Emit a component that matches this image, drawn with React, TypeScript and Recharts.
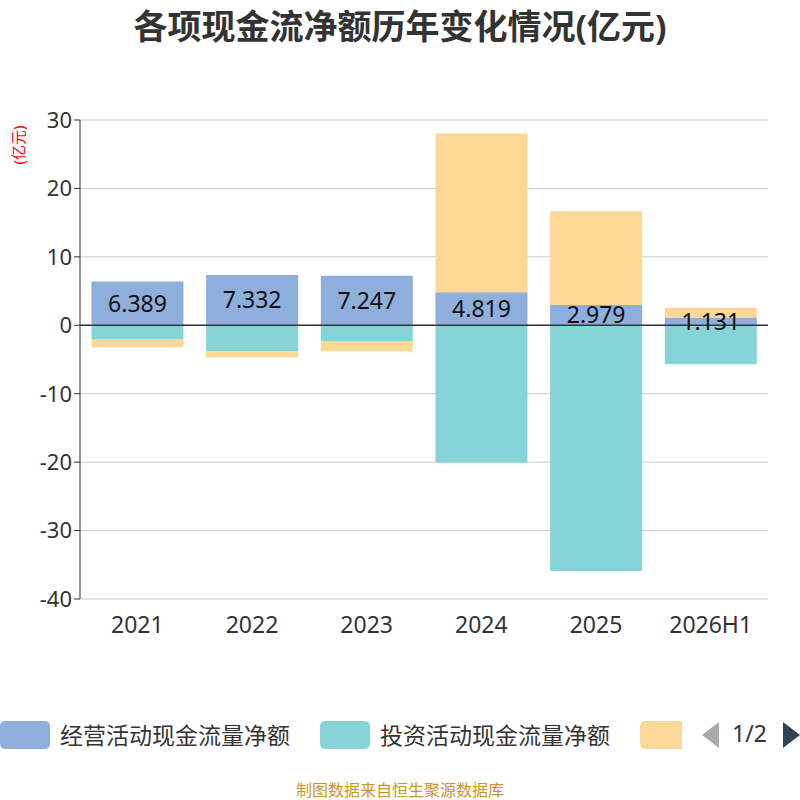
import React from "react";
import { BarChart, Bar, XAxis, YAxis, CartesianGrid, ReferenceLine, LabelList } from "recharts";

const categories = ["2021", "2022", "2023", "2024", "2025", "2026H1"];
const operating = [6.389, 7.332, 7.247, 4.819, 2.979, 1.131];
const investing = [-2.0, -3.8, -2.3, -20.1, -35.9, -5.7];
const financing = [-1.2, -0.9, -1.5, 23.2, 13.7, 1.4];
const yTicks = [-40, -30, -20, -10, 0, 10, 20, 30];

const data = categories.map((c, i) => ({ name: c, op: operating[i], inv: investing[i], fin: financing[i] }));

const C_OP = "#8eaedb";
const C_INV = "#86d4d8";
const C_FIN = "#fdd796";
const font = "'Noto Sans', 'Noto Sans CJK SC', sans-serif";

export default function App() {
  return (
    <div style={{ position: "absolute", left: 0, top: 0, width: 800, height: 800, background: "#fff", fontFamily: font, overflow: "hidden" }}>
      <div style={{ position: "absolute", top: 0, width: 800, textAlign: "center", fontSize: 34, fontWeight: "bold", color: "#333" }}>
        各项现金流净额历年变化情况(亿元)
      </div>
      <div style={{ position: "absolute", left: -10, top: 136, width: 56, textAlign: "center", fontSize: 15, color: "red", transform: "rotate(-90deg)", lineHeight: "18px" }}>
        (亿元)
      </div>
      <BarChart width={800} height={660} data={data} stackOffset="sign" barCategoryGap="10%"
        margin={{ top: 120, right: 32, left: 0, bottom: 21 }}>
        <CartesianGrid vertical={false} stroke="#ccc" />
        <XAxis dataKey="name" axisLine={false} tickLine={false} height={40}
          tick={{ fontSize: 23, fill: "#333", fontFamily: font }} tickMargin={12} />
        <YAxis width={80} domain={[-40, 30]} ticks={yTicks} axisLine={{ stroke: "#333" }} tickLine={{ stroke: "#333" }}
          tick={{ fontSize: 22, fill: "#333", fontFamily: font }} interval={0} />
        <Bar dataKey="op" stackId="a" fill={C_OP} isAnimationActive={false}>
          <LabelList dataKey="op" position="center" formatter={(v: number) => v.toFixed(3)}
            style={{ fontSize: 23, fill: "#111", fontFamily: font }} />
        </Bar>
        <Bar dataKey="inv" stackId="a" fill={C_INV} isAnimationActive={false} />
        <Bar dataKey="fin" stackId="a" fill={C_FIN} isAnimationActive={false} />
        <ReferenceLine y={0} stroke="#333" strokeWidth={1.5} />
      </BarChart>
      <div style={{ position: "absolute", top: 718, left: 0, width: 800, height: 30, fontSize: 23, color: "#333" }}>
        <div style={{ position: "absolute", left: 0, top: 3, width: 50, height: 28, borderRadius: 5, background: C_OP }} />
        <div style={{ position: "absolute", left: 60, top: -1 }}>经营活动现金流量净额</div>
        <div style={{ position: "absolute", left: 320, top: 3, width: 50, height: 28, borderRadius: 5, background: C_INV }} />
        <div style={{ position: "absolute", left: 380, top: -1 }}>投资活动现金流量净额</div>
        <div style={{ position: "absolute", left: 640, top: 3, width: 42, height: 28, borderRadius: "5px 0 0 5px", background: C_FIN }} />
        <div style={{ position: "absolute", left: 702, top: 4, width: 0, height: 0, borderTop: "13px solid transparent", borderBottom: "13px solid transparent", borderRight: "17px solid #aaa" }} />
        <div style={{ position: "absolute", left: 732, top: -1 }}>1/2</div>
        <div style={{ position: "absolute", left: 783, top: 4, width: 0, height: 0, borderTop: "13px solid transparent", borderBottom: "13px solid transparent", borderLeft: "17px solid #2f4554" }} />
      </div>
      <div style={{ position: "absolute", top: 777, width: 800, textAlign: "center", fontSize: 16, color: "#c8962a" }}>
        制图数据来自恒生聚源数据库
      </div>
    </div>
  );
}
